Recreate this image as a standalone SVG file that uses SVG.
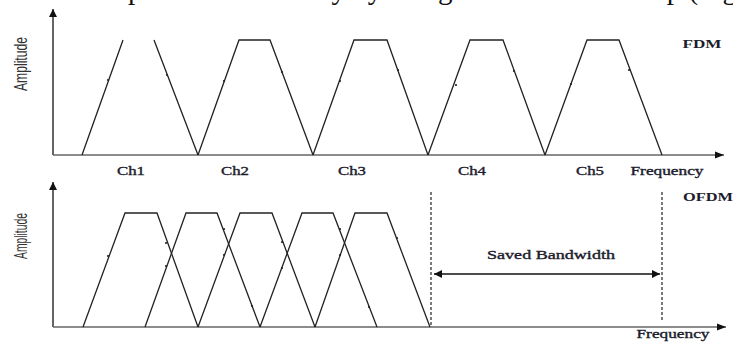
<svg xmlns="http://www.w3.org/2000/svg" width="733" height="343" viewBox="0 0 733 343">
<style>
.bg{fill:#fff}
.curve{fill:none;stroke:#222;stroke-width:1.3;stroke-linejoin:miter}
.axisv{stroke:#111;stroke-width:1.3}
.axish{stroke:#666;stroke-width:1.6}
.dash{stroke:#222;stroke-width:1.2;stroke-dasharray:3 2}
.dot{fill:#222}
.lbl{font-family:"Liberation Serif","Times New Roman",serif;font-size:12px;fill:#1c1c2c;stroke:#1c1c2c;stroke-width:0.35;text-anchor:middle}
.lblb{font-family:"Liberation Serif","Times New Roman",serif;font-size:12px;font-weight:bold;fill:#1c1c2c;text-anchor:middle}
.amp{font-family:"Liberation Sans Narrow","Liberation Sans",Arial,sans-serif;font-size:18px;fill:#333;text-anchor:middle}
.top{font-family:"Liberation Serif","Times New Roman",serif;font-size:29px;fill:#111}
</style>
<defs>
<marker id="ah" viewBox="0 0 10 10" refX="10" refY="5" markerWidth="8" markerHeight="8" markerUnits="userSpaceOnUse" orient="auto-start-reverse">
<path d="M0,0 L10,5 L0,10 Z" fill="#111"/>
</marker>
<marker id="ahg" viewBox="0 0 10 10" refX="10" refY="5" markerWidth="9" markerHeight="9" markerUnits="userSpaceOnUse" orient="auto">
<path d="M0,1 L10,5 L0,9 Z" fill="#111"/>
</marker>
</defs>
<rect class="bg" x="0" y="0" width="733" height="343"/>
<text class="top" x="37" y="-1" textLength="700" lengthAdjust="spacingAndGlyphs">crease spectrum efficiency by using subcarriers overlap (Fig</text>

<g id="axes">
<line class="axisv" x1="53" y1="155" x2="53" y2="9" marker-end="url(#ah)"/>
<line class="axish" x1="53" y1="155" x2="724" y2="155" marker-end="url(#ahg)"/>
<line class="axisv" x1="53" y1="327" x2="53" y2="182" marker-end="url(#ah)"/>
<line class="axish" x1="53" y1="327" x2="726" y2="327" marker-end="url(#ahg)"/>
</g>

<g id="fdm-channels">
<path class="curve" d="M82,155 L123,40 M154,40 L198,155"/>
<path class="curve" d="M198,155 L239,40 L270,40 L313,155"/>
<path class="curve" d="M313,155 L354,40 L387,40 L428,155"/>
<path class="curve" d="M428,155 L470,40 L503,40 L545,155"/>
<path class="curve" d="M545,155 L587,40 L619,40 L662,155"/>
<circle class="dot" cx="108" cy="80" r="1.1"/>
<circle class="dot" cx="167" cy="75" r="1.1"/>
<circle class="dot" cx="224" cy="81" r="1.1"/>
<circle class="dot" cx="282" cy="72" r="1.1"/>
<circle class="dot" cx="340" cy="81" r="1.1"/>
<circle class="dot" cx="398" cy="70" r="1.1"/>
<circle class="dot" cx="456" cy="85" r="1.1"/>
<circle class="dot" cx="514" cy="71" r="1.1"/>
<circle class="dot" cx="571" cy="84" r="1.1"/>
<circle class="dot" cx="629" cy="70" r="1.1"/>
</g>

<g id="fdm-labels">
<text class="amp" transform="translate(27,64) rotate(-90)" textLength="54" lengthAdjust="spacingAndGlyphs">Amplitude</text>
<text class="lbl" x="131" y="175" textLength="28" lengthAdjust="spacingAndGlyphs">Ch1</text>
<text class="lbl" x="235" y="175" textLength="28" lengthAdjust="spacingAndGlyphs">Ch2</text>
<text class="lbl" x="352" y="175" textLength="28" lengthAdjust="spacingAndGlyphs">Ch3</text>
<text class="lbl" x="472" y="175" textLength="28" lengthAdjust="spacingAndGlyphs">Ch4</text>
<text class="lbl" x="590" y="175" textLength="28" lengthAdjust="spacingAndGlyphs">Ch5</text>
<text class="lbl" x="667" y="175" textLength="73" lengthAdjust="spacingAndGlyphs">Frequency</text>
<text class="lblb" x="702" y="48" textLength="39" lengthAdjust="spacingAndGlyphs">FDM</text>
</g>

<g id="ofdm-subcarriers">
<path class="curve" d="M83,327 L125,213 L157,213 L198,327"/>
<path class="curve" d="M145,327 L186,213 L217,213 L260,327"/>
<path class="curve" d="M198,327 L240,213 L272,213 L315,327"/>
<path class="curve" d="M260,327 L302,213 L333,213 L377,327"/>
<path class="curve" d="M315,327 L355,213 L387,213 L430,327"/>
<circle class="dot" cx="108" cy="256" r="1.1"/>
<circle class="dot" cx="166" cy="243" r="1.1"/>
<circle class="dot" cx="166" cy="266" r="1.1"/>
<circle class="dot" cx="224" cy="229" r="1.1"/>
<circle class="dot" cx="224" cy="255" r="1.1"/>
<circle class="dot" cx="252" cy="306" r="1.1"/>
<circle class="dot" cx="282" cy="242" r="1.1"/>
<circle class="dot" cx="282" cy="268" r="1.1"/>
<circle class="dot" cx="340" cy="229" r="1.1"/>
<circle class="dot" cx="340" cy="255" r="1.1"/>
<circle class="dot" cx="369" cy="307" r="1.1"/>
<circle class="dot" cx="397" cy="238" r="1.1"/>
</g>

<g id="saved-bandwidth">
<line class="dash" x1="431" y1="192" x2="431" y2="327"/>
<line class="dash" x1="662" y1="192" x2="662" y2="322"/>
<line stroke="#111" stroke-width="1.3" x1="434" y1="274" x2="660" y2="274" marker-start="url(#ah)" marker-end="url(#ah)"/>
<text class="lbl" x="551" y="259" textLength="128" lengthAdjust="spacingAndGlyphs">Saved Bandwidth</text>
</g>

<g id="ofdm-labels">
<text class="amp" transform="translate(27,236) rotate(-90)" textLength="46" lengthAdjust="spacingAndGlyphs">Amplitude</text>
<text class="lblb" x="708" y="201" textLength="50" lengthAdjust="spacingAndGlyphs">OFDM</text>
<text class="lbl" x="673" y="338" textLength="73" lengthAdjust="spacingAndGlyphs">Frequency</text>
</g>
</svg>
